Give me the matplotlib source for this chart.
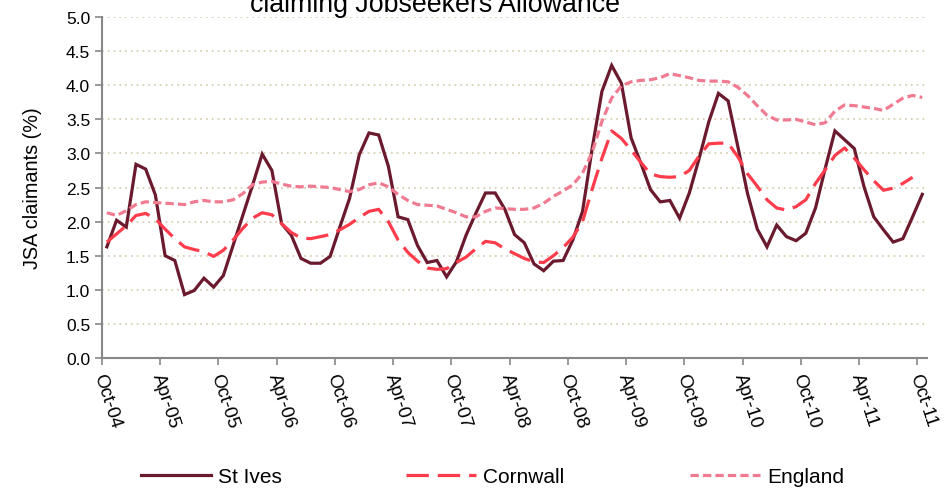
import numpy as np
import matplotlib
matplotlib.use("Agg")
import matplotlib.pyplot as plt
from matplotlib.ticker import FixedLocator, FormatStrFormatter

plt.rcParams['font.family'] = ['Liberation Sans', 'DejaVu Sans']

# monthly data, Oct-04 .. Oct-11
tick_labels = ['Oct-04', 'Apr-05', 'Oct-05', 'Apr-06', 'Oct-06', 'Apr-07', 'Oct-07',
               'Apr-08', 'Oct-08', 'Apr-09', 'Oct-09', 'Apr-10', 'Oct-10', 'Apr-11', 'Oct-11']
series_names = ['St Ives', 'Cornwall', 'England']

st_ives = [1.63, 2.02, 1.92, 2.84, 2.77, 2.39, 1.50, 1.43, 0.93, 0.99,
           1.17, 1.04, 1.21, 1.65, 2.09, 2.53, 2.99, 2.75, 1.97, 1.80,
           1.46, 1.39, 1.39, 1.49, 1.92, 2.34, 2.98, 3.30, 3.27, 2.81,
           2.07, 2.03, 1.65, 1.40, 1.43, 1.19, 1.41, 1.80, 2.12, 2.42,
           2.42, 2.18, 1.81, 1.69, 1.38, 1.28, 1.42, 1.43, 1.73, 2.15,
           3.08, 3.91, 4.29, 4.03, 3.23, 2.86, 2.47, 2.29, 2.31, 2.05,
           2.42, 2.92, 3.46, 3.88, 3.77, 3.10, 2.41, 1.89, 1.63, 1.95,
           1.78, 1.72, 1.83, 2.20, 2.78, 3.33, 3.20, 3.07, 2.51, 2.07,
           1.88, 1.70, 1.75, 2.07, 2.40]

cornwall = [1.70, 1.82, 1.94, 2.09, 2.12, 2.04, 1.89, 1.75, 1.63, 1.59,
            1.56, 1.49, 1.58, 1.73, 1.90, 2.05, 2.13, 2.10, 1.97, 1.84,
            1.76, 1.75, 1.78, 1.81, 1.88, 1.96, 2.06, 2.15, 2.18, 2.00,
            1.73, 1.55, 1.42, 1.32, 1.30, 1.31, 1.40, 1.48, 1.60, 1.71,
            1.69, 1.60, 1.53, 1.46, 1.41, 1.40, 1.50, 1.62, 1.77, 2.00,
            2.48, 2.93, 3.33, 3.22, 3.05, 2.87, 2.70, 2.66, 2.65, 2.66,
            2.75, 2.96, 3.14, 3.15, 3.15, 2.95, 2.70, 2.52, 2.32, 2.20,
            2.17, 2.22, 2.32, 2.56, 2.76, 2.97, 3.08, 2.93, 2.76, 2.60,
            2.46, 2.49, 2.56, 2.65, np.nan]

england = [2.13, 2.09, 2.16, 2.25, 2.29, 2.28, 2.27, 2.26, 2.25, 2.29,
           2.31, 2.29, 2.29, 2.32, 2.41, 2.54, 2.58, 2.59, 2.55, 2.52,
           2.51, 2.52, 2.51, 2.50, 2.47, 2.44, 2.47, 2.54, 2.57, 2.51,
           2.40, 2.31, 2.25, 2.24, 2.23, 2.18, 2.13, 2.07, 2.07, 2.15,
           2.20, 2.19, 2.18, 2.18, 2.20, 2.27, 2.37, 2.45, 2.54, 2.71,
           3.02, 3.47, 3.81, 3.99, 4.05, 4.07, 4.08, 4.11, 4.17, 4.14,
           4.11, 4.07, 4.06, 4.06, 4.05, 3.97, 3.85, 3.70, 3.56, 3.49,
           3.49, 3.50, 3.46, 3.42, 3.45, 3.62, 3.71, 3.70, 3.68, 3.66,
           3.63, 3.72, 3.81, 3.85, 3.82]

x = np.arange(len(st_ives))

fig = plt.figure(figsize=(9.48, 4.89), dpi=100)
ax = fig.add_axes([0.1076, 0.2658, 0.8704, 0.6974])

l1, = ax.plot(x, st_ives, color='#6b1a2e', lw=2.3, solid_joinstyle='miter')
l2, = ax.plot(x, cornwall, color='#ff3c4b', lw=2.3, dashes=(7, 2.8))
l3, = ax.plot(x, england, color='#f07b91', lw=2.3, dashes=(2.6, 1.3))

ax.set_xlim(-0.5, len(x) - 0.5)
ax.set_ylim(0, 5)

# category labels every 6 months, tick marks on category boundaries
ax.xaxis.set_major_locator(FixedLocator(np.arange(0, len(x), 6)))
ax.set_xticklabels(tick_labels, rotation=-72, ha='left', va='top',
                   rotation_mode='anchor', fontsize=13.5)
ax.xaxis.set_minor_locator(FixedLocator(np.arange(-0.5, len(x) - 1, 6)))
ax.tick_params(axis='x', which='major', length=0, pad=9)
ax.tick_params(axis='x', which='minor', length=5, color='#888888', width=1.2)

ax.set_yticks(np.arange(0, 5.01, 0.5))
ax.yaxis.set_major_formatter(FormatStrFormatter('%.1f'))
ax.tick_params(axis='y', length=5, color='#888888', width=1.2, labelsize=12.5)
ax.set_ylabel('JSA claimants (%)', fontsize=14.3, labelpad=17)

ax.grid(axis='y', linestyle=(0, (1, 2.2)), color='#d8d1b8', lw=1.3)
ax.set_axisbelow(True)
for s in ['top', 'right']:
    ax.spines[s].set_visible(False)
for s in ['left', 'bottom']:
    ax.spines[s].set_color('#888888')
    ax.spines[s].set_linewidth(1.5)

fig.text(0.459, 1 - 12 / 489, 'claiming Jobseekers Allowance', ha='center',
         va='baseline', fontsize=19.3)

# one legend entry per column, spread across the bottom like the original
legend_x = [141, 406, 690]
for line, name, lx in zip([l1, l2, l3], series_names, legend_x):
    leg = fig.legend([line], [name], loc='center left',
                     bbox_to_anchor=(lx / 948, 1 - 478 / 489), frameon=False,
                     borderpad=0, borderaxespad=0, handlelength=3.35,
                     handletextpad=0.35, fontsize=15)

fig.savefig('out.png', dpi=100)
